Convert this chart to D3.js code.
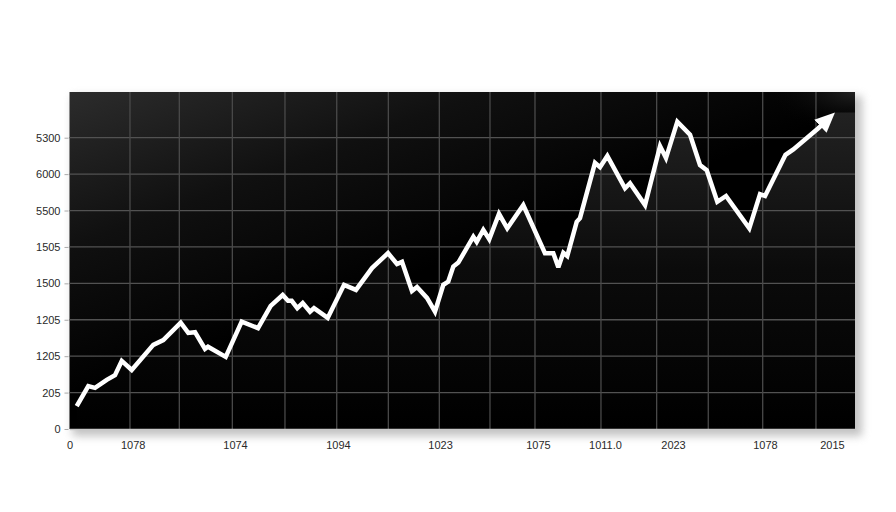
<!DOCTYPE html>
<html>
<head>
<meta charset="utf-8">
<script src="https://cdn.jsdelivr.net/npm/d3@7"></script>
<style>
  html, body { margin: 0; padding: 0; background: #ffffff; }
  svg { display: block; }
</style>
</head>
<body>
<svg id="chart" width="896" height="512"></svg>
<script>
// ---- data ----
const seriesT = [0.92, 2.39, 3.25, 4.74, 5.79, 6.65, 7.92, 10.67, 11.94, 14.16, 15.12, 15.98, 17.25, 17.63, 19.89,
  21.92, 24.00, 25.61, 27.14, 27.82, 28.29, 29.00, 29.69, 30.62, 31.13, 32.87, 34.95, 36.47, 38.51, 40.55,
  41.69, 42.33, 43.60, 44.24, 45.51, 46.53, 47.59, 48.22, 48.86, 49.50, 51.41, 51.84, 52.68, 53.44, 54.68,
  55.73, 57.77, 60.53, 61.59, 62.23, 62.87, 63.37, 64.57, 64.99, 66.90, 67.54, 68.47, 70.72, 71.36, 73.27,
  75.18, 75.94, 77.38, 79.00, 80.27, 81.12, 82.47, 83.58, 86.54, 87.91, 88.55, 91.15, 92.15, 95.33, 97.45];
const seriesV = [63, 118, 113, 135, 148, 187, 162, 231, 244, 292, 264, 266, 220, 226, 198,
  295, 277, 338, 368, 352, 352, 332, 346, 322, 332, 305, 396, 382, 442, 483,
  453, 459, 379, 390, 360, 322, 396, 405, 446, 457, 528, 514, 547, 521, 591,
  551, 615, 483, 483, 444, 484, 475, 569, 579, 731, 719, 750, 661, 675, 615,
  777, 744, 844, 808, 725, 711, 624, 640, 551, 645, 640, 753, 768, 826, 869];

const yTickValues = [0, 100, 200, 300, 400, 500, 600, 700, 800];
const yTickLabels = ["0", "205", "1205", "1205", "1500", "1505", "5500", "6000", "5300"];

const xTickValues = [0, 8.05, 21.07, 34.18, 47.17, 59.64, 68.17, 76.83, 88.54, 97.07];
const xTickLabels = ["0", "1078", "1074", "1094", "1023", "1075", "1011.0", "2023", "1078", "2015"];

const xGridValues = [7.70, 13.98, 20.73, 27.43, 34.02, 40.59, 47.08, 53.53, 59.26, 67.66, 74.75, 81.32, 88.25, 95.03];

// ---- layout ----
const plot = { left: 69.5, right: 855, top: 92, bottom: 429 };
const svg = d3.select("#chart");

const x = d3.scaleLinear().domain([0, 100]).range([plot.left, plot.right]);
const y = d3.scaleLinear().domain([0, 800]).range([plot.bottom, 137.7]);

const data = seriesT.map((t, i) => ({ t, v: seriesV[i] }));

const defs = svg.append("defs");

// background gradient
const bg = defs.append("linearGradient").attr("id", "bgGrad")
  .attr("x1", 0).attr("y1", 0).attr("x2", 0.65).attr("y2", 0.75);
bg.append("stop").attr("offset", "0%").attr("stop-color", "#2c2c2c");
bg.append("stop").attr("offset", "35%").attr("stop-color", "#101010");
bg.append("stop").attr("offset", "70%").attr("stop-color", "#000000");
bg.append("stop").attr("offset", "100%").attr("stop-color", "#000000");

// subtle glow at top-right
const rg = defs.append("radialGradient").attr("id", "glow")
  .attr("cx", 1).attr("cy", 0).attr("r", 0.12);
rg.append("stop").attr("offset", "0%").attr("stop-color", "#2a2a2a").attr("stop-opacity", 0.8);
rg.append("stop").attr("offset", "100%").attr("stop-color", "#000").attr("stop-opacity", 0);

// area gradient
const ag = defs.append("linearGradient").attr("id", "areaGrad")
  .attr("gradientUnits", "userSpaceOnUse")
  .attr("x1", 0).attr("y1", 110).attr("x2", 0).attr("y2", plot.bottom);
ag.append("stop").attr("offset", "0%").attr("stop-color", "#222222");
ag.append("stop").attr("offset", "50%").attr("stop-color", "#0b0b0b");
ag.append("stop").attr("offset", "100%").attr("stop-color", "#000000");

// shadow filter
const f = defs.append("filter").attr("id", "shadow")
  .attr("x", "-5%").attr("y", "-5%").attr("width", "115%").attr("height", "120%");
f.append("feGaussianBlur").attr("stdDeviation", 4);

// arrow marker
defs.append("marker").attr("id", "arrow")
  .attr("markerUnits", "userSpaceOnUse")
  .attr("viewBox", "0 0 20 20")
  .attr("refX", 4).attr("refY", 10)
  .attr("markerWidth", 20).attr("markerHeight", 20)
  .attr("orient", "auto")
  .append("path").attr("d", "M0,1 L20,10 L0,19 Z").attr("fill", "#ffffff");

// shadow behind plot
svg.append("rect")
  .attr("x", plot.left + 3).attr("y", plot.top + 4)
  .attr("width", plot.right - plot.left + 4).attr("height", plot.bottom - plot.top + 3)
  .attr("fill", "#9a9a9a").attr("opacity", 0.6)
  .attr("filter", "url(#shadow)");

// plot background
svg.append("rect")
  .attr("x", plot.left).attr("y", plot.top)
  .attr("width", plot.right - plot.left).attr("height", plot.bottom - plot.top)
  .attr("fill", "url(#bgGrad)");
svg.append("rect")
  .attr("x", plot.left).attr("y", plot.top)
  .attr("width", plot.right - plot.left).attr("height", plot.bottom - plot.top)
  .attr("fill", "url(#glow)");

// area under line (shading carried to the right edge of the plot)
const lastPt = data[data.length - 1];
const areaData = data.concat([{ t: x.domain()[1], v: lastPt.v }]);
const area = d3.area().x(d => x(d.t)).y0(plot.bottom).y1(d => y(d.v)).curve(d3.curveLinear);
svg.append("path").datum(areaData)
  .attr("d", area)
  .attr("fill", "url(#areaGrad)");

// grid lines
const grid = svg.append("g");
grid.selectAll("line.h").data(yTickValues.slice(1)).enter().append("line")
  .attr("x1", plot.left).attr("x2", plot.right)
  .attr("y1", d => y(d)).attr("y2", d => y(d))
  .attr("stroke", "#525252").attr("stroke-width", 1.3);
grid.selectAll("line.v").data(xGridValues).enter().append("line")
  .attr("y1", plot.top).attr("y2", plot.bottom)
  .attr("x1", d => x(d)).attr("x2", d => x(d))
  .attr("stroke", "#4a4a4a").attr("stroke-width", 1.3);

// line with arrow
const prev = data[data.length - 2];
const lx = x(lastPt.t), ly = y(lastPt.v), px = x(prev.t), py = y(prev.v);
const len = Math.hypot(lx - px, ly - py);
const cut = 16;
const endPt = [lx - (lx - px) / len * cut, ly - (ly - py) / len * cut];
const pts = data.slice(0, -1).map(d => [x(d.t), y(d.v)]).concat([endPt]);
svg.append("path")
  .attr("d", d3.line()(pts))
  .attr("fill", "none")
  .attr("stroke", "#ffffff")
  .attr("stroke-width", 4.5)
  .attr("stroke-linejoin", "miter")
  .attr("stroke-miterlimit", 3)
  .attr("marker-end", "url(#arrow)");

// axes
const yAxis = d3.axisLeft(y).tickValues(yTickValues)
  .tickFormat((d, i) => yTickLabels[i]).tickSize(4).tickPadding(4);
const gy = svg.append("g").attr("transform", `translate(${plot.left - 1},0)`).call(yAxis);
gy.select(".domain").remove();
gy.selectAll(".tick line").attr("stroke", "#aaaaaa");
gy.selectAll("text").attr("fill", "#2a2a2a").style("font-family", "'Liberation Sans', Arial, sans-serif").style("font-size", "11px");

const xAxis = d3.axisBottom(x).tickValues(xTickValues)
  .tickFormat((d, i) => xTickLabels[i]).tickSize(0).tickPadding(12);
const gx = svg.append("g").attr("transform", `translate(0,${plot.bottom})`).call(xAxis);
gx.select(".domain").attr("stroke", "#c8c8c8").attr("stroke-width", 1.5);
gx.selectAll("text").attr("fill", "#2a2a2a").style("font-family", "'Liberation Sans', Arial, sans-serif").style("font-size", "11px");
</script>
</body>
</html>
